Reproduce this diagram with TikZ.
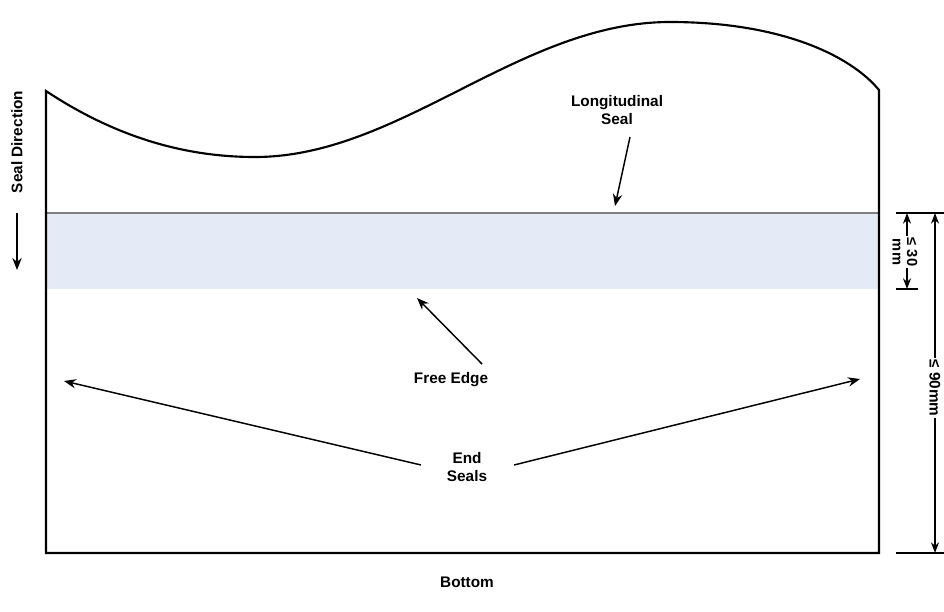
\documentclass[tikz,border=0pt]{standalone}
\usepackage{fontspec}
\setmainfont{Liberation Sans}
\usetikzlibrary{arrows.meta}
\definecolor{bandblue}{HTML}{E4EBF6}
\definecolor{sealgray}{HTML}{808080}
\begin{document}
\begin{tikzpicture}[x=0.75pt,y=-0.75pt,
  lbl/.style={font=\bfseries\fontsize{11.5}{13.5}\selectfont, align=center, inner sep=1pt},
  arr/.style={line width=1.1pt, -{Stealth[length=9pt,width=7pt]}},
  dimarr/.style={line width=1pt, {Stealth[length=8pt,width=6pt]}-{Stealth[length=8pt,width=6pt]}},
  tick/.style={line width=1pt},
  outline/.style={line width=1.6pt}]
\useasboundingbox (0,0) rectangle (944,611);
% free edge band and longitudinal seal line
\fill[bandblue] (46,213) rectangle (879,289);
\draw[sealgray, line width=1.6pt] (46,213) -- (879,213);
% package outline
\draw[outline, line join=miter] (46,91) .. controls (120,140) and (190,157) .. (255,157)
  .. controls (400,157) and (520,22) .. (670,22)
  .. controls (780,22) and (850,55) .. (879,90) -- (879,553) -- (46,553) -- cycle;
% seal direction
\node[lbl, rotate=90] (sd) at (17,142) {Seal Direction};
\coordinate (sdA) at (17,213);
\coordinate (sdB) at (17,270);
\draw[arr, line width=1.5pt] (sdA) -- (sdB);
% longitudinal seal
\node[lbl] (ls) at (617,110) {Longitudinal\\Seal};
\coordinate (lsA) at (630,137);
\coordinate (lsB) at (615,206);
\draw[arr] (lsA) -- (lsB);
% free edge
\node[lbl] (fe) at (451,380) {Free Edge};
\coordinate (feA) at (482,364);
\coordinate (feB) at (417,298);
\draw[arr] (feA) -- (feB);
% end seals
\node[lbl] (es) at (467,467) {End\\Seals};
\coordinate (esL) at (421,465);
\coordinate (esR) at (514,465);
\coordinate (esLt) at (64,381);
\coordinate (esRt) at (860,379);
\draw[arr] (esL) -- (esLt);
\draw[arr] (esR) -- (esRt);
% bottom
\node[lbl] (bt) at (467,582) {Bottom};
% dimensions
\coordinate (t1a) at (896,213); \coordinate (t1b) at (944,213);
\coordinate (t2a) at (896,289); \coordinate (t2b) at (918,289);
\coordinate (t3a) at (896,553); \coordinate (t3b) at (944,553);
\draw[tick] (t1a) -- (t1b);
\draw[tick] (t2a) -- (t2b);
\draw[tick] (t3a) -- (t3b);
\coordinate (d30a) at (907,213); \coordinate (d30b) at (907,289);
\draw[dimarr] (d30a) -- (d30b);
\node[lbl, rotate=-90, fill=white, inner sep=1pt, font=\bfseries\fontsize{11}{11}\selectfont] (d30) at (905,252) {≤ 30\\mm};
\coordinate (d90a) at (935,213); \coordinate (d90b) at (935,553);
\draw[dimarr] (d90a) -- (d90b);
\node[lbl, rotate=-90, fill=white, inner sep=1pt] (d90) at (935,388) {≤ 90mm};
\end{tikzpicture}
\end{document}
